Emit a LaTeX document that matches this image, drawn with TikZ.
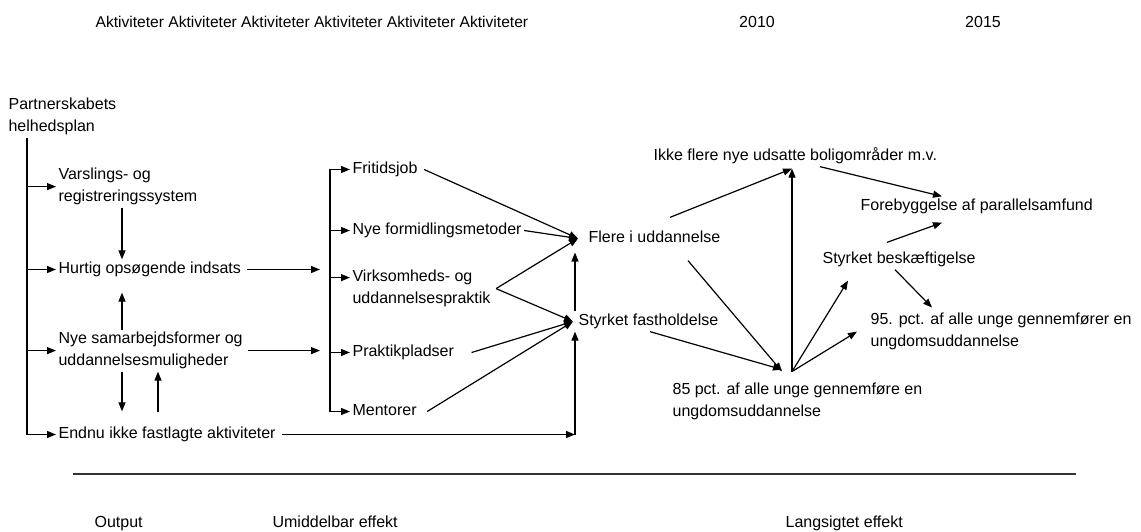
\documentclass[tikz,border=0pt]{standalone}
\usepackage{fontspec}
\setmainfont{Liberation Sans}
\usetikzlibrary{arrows.meta}

\begin{document}
\begin{tikzpicture}[x=1pt, y=-1pt, line width=1.2pt,
    lbl/.style={anchor=west, inner sep=2pt, align=left, font=\fontsize{16}{22}\selectfont},
    one/.style={lbl, text height=11.7pt, text depth=3.4pt},
    arr/.style={-{Triangle[length=9pt, width=7pt]}}]

  \useasboundingbox (0,0) rectangle (1141,532);

  % Header and footer
  \node[one, font=\fontsize{15.6}{20}\selectfont] (akt) at (93,23.5) {Aktiviteter Aktiviteter Aktiviteter Aktiviteter Aktiviteter Aktiviteter};
  \node[one, anchor=center] (y2010) at (757,23.5) {2010};
  \node[one, anchor=center] (y2015) at (983,23.5) {2015};
  \draw[line width=1.6pt, black!80] (73,474) coordinate (ruleL) -- (1076,474) coordinate (ruleR);
  \node[one] (output) at (92,523.5) {Output};
  \node[one] (umid) at (270,523.5) {Umiddelbar effekt};
  \node[one] (lang) at (783,523.5) {Langsigtet effekt};

  % Output
  \node[lbl] (plan)   at (6,116.6)   {Partnerskabets\\helhedsplan};
  \node[lbl] (vars)   at (56,186.6)  {Varslings- og\\registreringssystem};
  \node[one] (hurtig) at (56,269.5)  {Hurtig opsøgende indsats};
  \node[lbl] (nyesam) at (56,350.6)  {Nye samarbejdsformer og\\uddannelsesmuligheder};
  \node[one] (endnu)  at (56,434.5)  {Endnu ikke fastlagte aktiviteter};

  % Umiddelbar effekt
  \node[one] (frit)   at (350,169.5) {Fritidsjob};
  \node[one] (formid) at (350,230.5) {Nye formidlingsmetoder};
  \node[lbl] (virk)   at (350,288.6) {Virksomheds- og\\uddannelsespraktik};
  \node[one] (prakt)  at (350,352.5) {Praktikpladser};
  \node[one] (ment)   at (350,411.5) {Mentorer};
  \node[one] (flere)  at (586,238.5) {Flere i uddannelse};
  \node[one] (fasth)  at (576,321.5) {Styrket fastholdelse};

  % Langsigtet effekt
  \node[one] (ikke)  at (651,156.5) {Ikke flere nye udsatte boligområder m.v.};
  \node[lbl] (pct85) at (670,401.6) {85 pct. af alle unge gennemføre en\\ungdomsuddannelse};
  \node[one] (besk)  at (820,259.5) {Styrket beskæftigelse};
  \node[one] (foreb) at (858,206.5) {Forebyggelse af parallelsamfund};
  \node[lbl] (pct95) at (868,331.6) {95. pct. af alle unge gennemfører en\\ungdomsuddannelse};

  % Spine from the plan
  \coordinate (sp) at (27,138);
  \draw[arr] (sp) |- (endnu.west);
  \foreach \n in {vars,hurtig,nyesam}
    \draw[arr] (sp |- \n.west) -- (\n.west);

  \draw[arr] ([xshift=66pt]vars.south west) -- ([xshift=66pt]hurtig.north west);
  \draw[arr, shorten >=13pt] ([xshift=66pt]nyesam.north west) -- ([xshift=66pt]hurtig.south west);
  \draw[arr, shorten >=13pt] ([xshift=66pt]nyesam.south west) -- ([xshift=66pt]endnu.north west);
  \draw[arr, shorten <=12pt] ([xshift=102pt]endnu.north west) -- ([xshift=102pt]nyesam.south west);

  \coordinate (hIn) at (320,269.5);
  \coordinate (nIn) at (320,350.6);
  \draw[arr] ([xshift=3pt]hurtig.east) -- (hIn);
  \draw[arr] ([xshift=3pt]nyesam.east) -- (nIn);

  \coordinate (corner) at (575,434.5);
  \draw[arr] ([xshift=4pt]endnu.east) -- (corner);
  \draw[arr] (corner) -- (corner |- fasth.south);

  % Bracket
  \coordinate (brtop) at (330,169.5);
  \coordinate (brbot) at (330,411.5);
  \draw (brtop) -- (brbot);
  \foreach \n in {frit,formid,prakt,ment}
    \draw[arr] (brtop |- \n.west) -- (\n.west);
  \draw[arr] (brtop |- 0,277.6) -- ([yshift=11pt]virk.west);

  \coordinate (fIn) at ([xshift=-8pt]flere.west);
  \coordinate (sIn) at ([xshift=-3pt]fasth.west);
  \draw[arr] ([xshift=4pt]frit.east) -- (fIn);
  \draw[arr] (formid.east) -- (fIn);
  \draw[arr] ([xshift=3pt]virk.east) -- (fIn);
  \draw[arr] ([xshift=3pt]virk.east) -- (sIn);
  \draw[arr] ([xshift=15pt]prakt.east) -- (sIn);
  \draw[arr] ([xshift=8pt]ment.east) -- (sIn);
  \draw[arr] (fasth.north -| corner) -- ([yshift=-14pt]flere.west -| corner);

  % Long-term links
  \coordinate (hub)  at ([shift={(122pt,9pt)}]pct85.north west);
  \coordinate (ikIn) at ([shift={(141pt,-2pt)}]ikke.south west);
  \draw[arr] ([shift={(84pt,11pt)}]flere.north west) -- (ikIn);
  \draw[arr] (hub) -- (ikIn);
  \draw[arr] ([shift={(102pt,-12pt)}]flere.south west) -- ([xshift=-10pt]hub);
  \draw[arr] ([xshift=74pt]fasth.south west) -- ([shift={(-10pt,2pt)}]hub);
  \draw[arr] (hub) -- ([shift={(28pt,-11pt)}]besk.south west);
  \draw[arr] (hub) -- ([xshift=-11pt]pct95.west);
  \draw[arr] ([shift={(67pt,7pt)}]besk.north west) -- ([shift={(84pt,-6pt)}]foreb.south west);
  \draw[arr] ([xshift=169pt]ikke.south west) -- ([xshift=84pt]foreb.north west);
  \draw[arr] ([xshift=75pt]besk.south west) -- ([shift={(64pt,3pt)}]pct95.north west);

\end{tikzpicture}
\end{document}
